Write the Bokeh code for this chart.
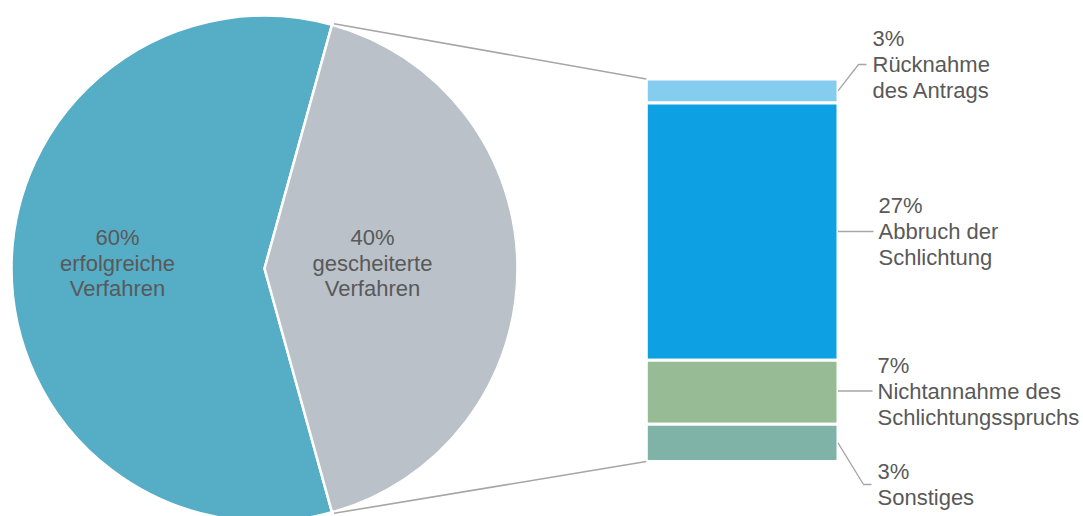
import math
from bokeh.plotting import figure
from bokeh.models import Range1d
from bokeh.core.properties import value
from bokeh.embed import file_html
from bokeh.resources import INLINE

# ---------------- data ----------------
pie_labels = ["erfolgreiche Verfahren", "gescheiterte Verfahren"]
pie_values = [58.6, 41.4]
pie_texts = [["60%", "erfolgreiche", "Verfahren"], ["40%", "gescheiterte", "Verfahren"]]
pie_colors = ["#56ADC6", "#BAC1C9"]

bar_labels = ["Rücknahme des Antrags", "Abbruch der Schlichtung",
              "Nichtannahme des Schlichtungsspruchs", "Sonstiges"]
bar_values = [2.5, 26.9, 6.7, 3.9]
bar_texts = [["3%", "Rücknahme", "des Antrags"],
             ["27%", "Abbruch der", "Schlichtung"],
             ["7%", "Nichtannahme des", "Schlichtungsspruchs"],
             ["3%", "Sonstiges"]]
bar_colors = ["#85CDEE", "#0DA0E2", "#97BC95", "#80B3A8"]

# ---------------- layout (screen-like coords, y = -screen_y) ----------------
W, H = 1083, 516
FONT = value("Liberation Sans")
TXT = "#595959"
GRID = "#A6A6A6"
FS = "22px"
LH = 25.5

p = figure(width=W, height=H, x_range=Range1d(0, W), y_range=Range1d(-H, 0),
           output_backend="svg", toolbar_location=None, min_border=0)
p.axis.visible = False
p.grid.visible = False
p.outline_line_color = None
p.background_fill_color = "white"

# pie
cx, cy, R = 264, -268, 253
frac_other = pie_values[1] / sum(pie_values)
half = frac_other * math.pi
starts = [half, -half]
ends = [2 * math.pi - half, half]
p.wedge(x=[cx, cx], y=[cy, cy], radius=R, start_angle=starts, end_angle=ends,
        fill_color=pie_colors, line_color="white", line_width=2.5)

pie_lx = [117, 372]
pie_ly = [-237, -237]
for k, lines in enumerate(pie_texts):
    ys = [pie_ly[k] - i * LH for i in range(len(lines))]
    p.text(x=[pie_lx[k]] * len(lines), y=ys, text=lines, text_font=FONT,
           text_font_size=FS, text_color=TXT, text_align="center",
           text_baseline="middle")

# bar
bar_left, bar_right = 645.8, 837.5
bar_top, bar_bottom = -78.5, -461
scale = (bar_top - bar_bottom) / sum(bar_values)
tops, bottoms = [], []
cur = bar_top
for v in bar_values:
    tops.append(cur)
    cur -= v * scale
    bottoms.append(cur)
p.quad(left=bar_left, right=bar_right, top=tops, bottom=bottoms,
       fill_color=bar_colors, line_color="white", line_width=3)

# connector lines from pie edge to bar
top_pt = (cx + R * math.cos(half), cy + R * math.sin(half))
bot_pt = (cx + R * math.cos(-half), cy + R * math.sin(-half))
p.line(x=[top_pt[0] + 2, bar_left], y=[top_pt[1] + 1, bar_top], line_color=GRID, line_width=1.6)
p.line(x=[bot_pt[0] + 2, bar_left], y=[bot_pt[1] - 1, bar_bottom], line_color=GRID, line_width=1.6)

# labels with leader lines
lab_x = [872, 878, 877, 877]
lab_y = [-64, -231, -390.5, -484]
for k, lines in enumerate(bar_texts):
    seg_c = (tops[k] + bottoms[k]) / 2
    x0 = bar_right
    if abs(seg_c - lab_y[k]) > 3:
        xs = [x0, lab_x[k] - 14, lab_x[k] - 6]
        ys = [seg_c, lab_y[k], lab_y[k]]
    else:
        xs = [x0, lab_x[k] - 5]
        ys = [lab_y[k], lab_y[k]]
    p.line(x=xs, y=ys, line_color=GRID, line_width=1.3)
    n = len(lines)
    y0 = lab_y[k] + (n - 1) / 2 * 26
    tys = [y0 - i * 26 for i in range(n)]
    p.text(x=[lab_x[k]] * n, y=tys, text=lines, text_font=FONT,
           text_font_size=FS, text_color=TXT, text_align="left",
           text_baseline="middle")

open("out.html", "w").write(file_html(p, INLINE))
